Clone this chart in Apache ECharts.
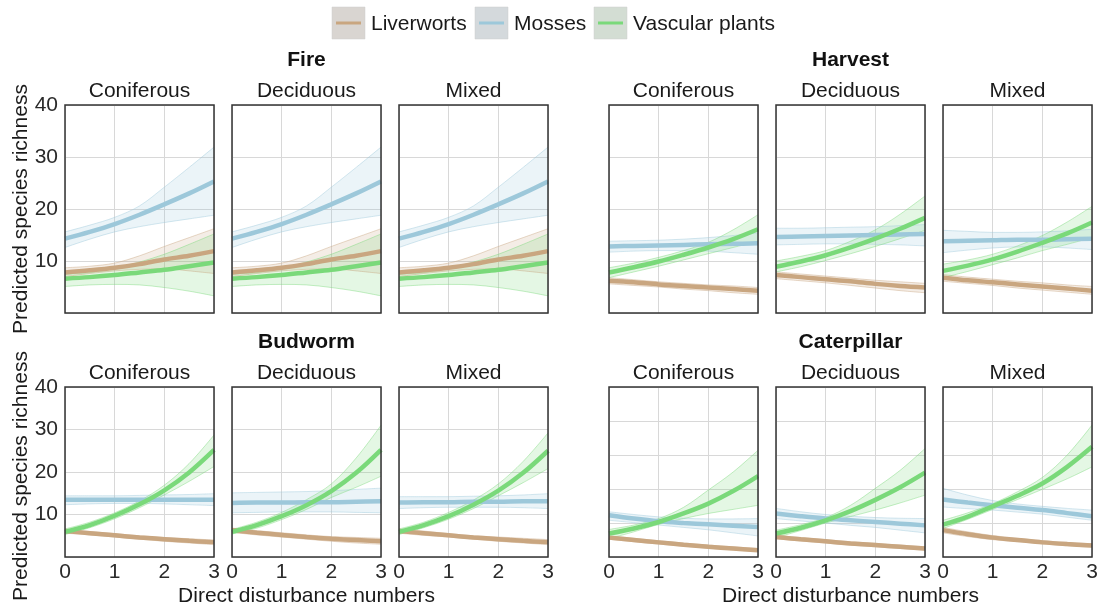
<!DOCTYPE html>
<html><head><meta charset="utf-8">
<script src="https://cdn.jsdelivr.net/npm/echarts@6/dist/echarts.min.js"></script>
<style>html,body{margin:0;padding:0;background:#fff}#chart{width:1103px;height:608px}</style>
</head><body><div id="chart"></div>
<script>
// ---------- data ----------
const xCats = ['0', '0.5', '1', '1.5', '2', '2.5', '3'];
const speciesNames = ['Liverworts', 'Mosses', 'Vascular plants'];
const forestTypes = ['Coniferous', 'Deciduous', 'Mixed'];
const disturbanceNames = ['Fire', 'Harvest', 'Budworm', 'Caterpillar'];
const yTicksMain = [10, 20, 30, 40];
const yMaxByDisturbance = [40, 40, 40, 50];
const xAxisTitle = 'Direct disturbance numbers';
const yAxisTitle = 'Predicted species richness';

// each array: [Liverworts, Mosses, Vascular plants], values at xCats
const fireConMean = [[7.8, 8.2, 8.7, 9.4, 10.3, 11.0, 11.9], [14.3, 15.6, 17.1, 18.9, 20.9, 23.0, 25.3], [6.6, 6.9, 7.3, 7.8, 8.3, 9.0, 9.7]];
const fireConLow  = [[7.0, 7.6, 8.1, 8.4, 8.5, 8.1, 7.6], [12.6, 14.2, 15.6, 16.6, 17.4, 18.1, 18.8], [5.1, 5.4, 5.5, 5.4, 4.9, 4.2, 3.3]];
const fireConHigh = [[8.7, 9.0, 9.6, 11.0, 12.8, 14.5, 16.2], [15.6, 16.9, 18.4, 20.6, 24.2, 28.0, 31.9], [7.5, 7.8, 8.6, 9.8, 11.3, 13.2, 15.2]];

const fireDecMean = [[7.8, 8.2, 8.7, 9.4, 10.3, 11.0, 11.9], [14.3, 15.6, 17.1, 18.9, 20.9, 23.0, 25.3], [6.6, 6.9, 7.3, 7.8, 8.3, 9.0, 9.7]];
const fireDecLow  = [[7.0, 7.6, 8.1, 8.4, 8.5, 8.1, 7.6], [12.6, 14.2, 15.6, 16.6, 17.4, 18.1, 18.8], [5.1, 5.4, 5.5, 5.4, 4.9, 4.2, 3.3]];
const fireDecHigh = [[8.7, 9.0, 9.6, 11.0, 12.8, 14.5, 16.2], [15.6, 16.9, 18.4, 20.6, 24.2, 28.0, 31.9], [7.5, 7.8, 8.6, 9.8, 11.3, 13.2, 15.2]];

const fireMixMean = [[7.8, 8.2, 8.7, 9.4, 10.3, 11.0, 11.9], [14.3, 15.6, 17.1, 18.9, 20.9, 23.0, 25.3], [6.6, 6.9, 7.3, 7.8, 8.3, 9.0, 9.7]];
const fireMixLow  = [[7.0, 7.6, 8.1, 8.4, 8.5, 8.1, 7.6], [12.6, 14.2, 15.6, 16.6, 17.4, 18.1, 18.8], [5.1, 5.4, 5.5, 5.4, 4.9, 4.2, 3.3]];
const fireMixHigh = [[8.7, 9.0, 9.6, 11.0, 12.8, 14.5, 16.2], [15.6, 16.9, 18.4, 20.6, 24.2, 28.0, 31.9], [7.5, 7.8, 8.6, 9.8, 11.3, 13.2, 15.2]];

const harvConMean = [[6.2, 5.9, 5.5, 5.2, 4.9, 4.6, 4.3], [12.8, 12.9, 13.0, 13.1, 13.2, 13.3, 13.4], [7.8, 8.8, 9.9, 11.2, 12.6, 14.2, 16.1]];
const harvConLow  = [[5.6, 5.3, 5.0, 4.6, 4.3, 3.9, 3.6], [11.7, 11.9, 12.0, 12.0, 11.9, 11.6, 11.3], [6.8, 7.9, 9.0, 10.2, 11.4, 12.6, 13.8]];
const harvConHigh = [[6.8, 6.4, 6.0, 5.7, 5.4, 5.2, 4.9], [13.8, 13.9, 14.0, 14.2, 14.5, 14.9, 15.4], [8.7, 9.6, 10.7, 12.0, 13.6, 16.0, 18.9]];

const harvDecMean = [[7.3, 6.9, 6.5, 6.1, 5.6, 5.2, 4.9], [14.6, 14.7, 14.8, 14.9, 15.0, 15.1, 15.2], [8.9, 9.9, 11.1, 12.6, 14.3, 16.2, 18.3]];
const harvDecLow  = [[6.6, 6.2, 5.8, 5.3, 4.8, 4.3, 3.9], [13.1, 13.2, 13.3, 13.3, 13.2, 13.1, 12.9], [7.9, 8.9, 10.1, 11.4, 12.8, 14.3, 15.9]];
const harvDecHigh = [[7.9, 7.5, 7.1, 6.7, 6.3, 6.0, 5.7], [16.3, 16.3, 16.4, 16.5, 16.6, 16.8, 17.0], [10.0, 10.9, 12.0, 13.8, 16.0, 19.0, 22.5]];

const harvMixMean = [[6.8, 6.3, 5.9, 5.5, 5.1, 4.7, 4.3], [13.8, 13.9, 14.0, 14.1, 14.1, 14.2, 14.3], [8.1, 9.1, 10.3, 11.8, 13.5, 15.3, 17.4]];
const harvMixLow  = [[6.1, 5.7, 5.3, 4.8, 4.4, 4.0, 3.6], [11.6, 12.1, 12.5, 12.7, 12.7, 12.5, 12.2], [6.8, 8.0, 9.3, 10.6, 12.0, 13.2, 14.5]];
const harvMixHigh = [[7.4, 6.9, 6.5, 6.1, 5.8, 5.4, 5.1], [15.9, 15.7, 15.5, 15.5, 15.6, 15.8, 16.1], [9.4, 10.2, 11.3, 12.9, 14.9, 17.5, 20.5]];

const budConMean = [[6.1, 5.6, 5.1, 4.6, 4.2, 3.8, 3.5], [13.5, 13.5, 13.5, 13.5, 13.5, 13.5, 13.5], [5.9, 7.5, 9.7, 12.4, 15.7, 19.9, 25.2]];
const budConLow  = [[5.6, 5.2, 4.7, 4.2, 3.7, 3.3, 2.9], [12.3, 12.5, 12.6, 12.6, 12.5, 12.3, 12.1], [5.3, 6.9, 9.0, 11.6, 14.6, 17.8, 21.3]];
const budConHigh = [[6.6, 6.0, 5.5, 5.0, 4.6, 4.3, 4.0], [14.4, 14.4, 14.4, 14.5, 14.6, 14.7, 14.9], [6.6, 8.2, 10.4, 13.2, 16.9, 22.0, 28.7]];

const budDecMean = [[6.3, 5.7, 5.2, 4.7, 4.3, 4.0, 3.7], [12.7, 12.8, 12.8, 12.9, 12.9, 13.0, 13.1], [5.9, 7.5, 9.6, 12.2, 15.5, 19.8, 25.2]];
const budDecLow  = [[5.8, 5.2, 4.7, 4.2, 3.7, 3.3, 3.0], [10.4, 10.5, 10.6, 10.6, 10.6, 10.5, 10.4], [5.4, 6.8, 8.8, 11.2, 14.0, 16.4, 19.0]];
const budDecHigh = [[6.8, 6.2, 5.7, 5.2, 4.8, 4.6, 4.4], [15.1, 15.2, 15.3, 15.4, 15.6, 15.9, 16.2], [6.5, 8.2, 10.5, 13.5, 17.2, 23.3, 31.0]];

const budMixMean = [[6.1, 5.6, 5.1, 4.6, 4.2, 3.8, 3.5], [12.8, 12.9, 12.9, 13.0, 13.0, 13.1, 13.1], [5.9, 7.5, 9.6, 12.3, 15.6, 19.8, 25.0]];
const budMixLow  = [[5.6, 5.1, 4.7, 4.2, 3.7, 3.3, 2.9], [11.4, 11.6, 11.7, 11.7, 11.7, 11.6, 11.4], [5.3, 6.9, 8.9, 11.4, 14.4, 17.5, 20.8]];
const budMixHigh = [[6.6, 6.1, 5.5, 5.0, 4.7, 4.4, 4.1], [14.2, 14.2, 14.2, 14.3, 14.4, 14.6, 14.9], [6.6, 8.2, 10.5, 13.4, 17.2, 22.5, 29.2]];

const catConMean = [[5.7, 5.0, 4.3, 3.6, 3.0, 2.5, 2.0], [12.3, 11.3, 10.5, 10.0, 9.6, 9.2, 8.8], [6.9, 8.4, 10.3, 12.8, 15.7, 19.4, 23.8]];
const catConLow  = [[5.2, 4.5, 3.8, 3.2, 2.6, 2.1, 1.6], [10.8, 10.1, 9.4, 8.7, 8.0, 7.1, 6.2], [5.4, 7.4, 9.6, 11.3, 12.8, 14.0, 15.2]];
const catConHigh = [[6.2, 5.5, 4.8, 4.1, 3.5, 3.0, 2.5], [13.3, 12.5, 11.8, 11.4, 11.2, 11.2, 11.3], [8.1, 9.4, 11.3, 14.6, 19.7, 25.0, 31.4]];

const catDecMean = [[5.9, 5.2, 4.6, 4.0, 3.5, 3.0, 2.5], [12.8, 12.0, 11.3, 10.8, 10.3, 9.8, 9.3], [6.9, 8.6, 10.8, 13.5, 16.8, 20.5, 24.8]];
const catDecLow  = [[5.4, 4.7, 4.1, 3.5, 3.0, 2.5, 2.0], [11.3, 10.6, 10.0, 9.3, 8.7, 7.9, 7.1], [5.7, 7.8, 10.0, 11.9, 13.8, 15.9, 18.2]];
const catDecHigh = [[6.4, 5.7, 5.1, 4.5, 4.0, 3.5, 3.0], [14.3, 13.3, 12.5, 12.0, 11.6, 11.4, 11.3], [7.9, 9.5, 11.6, 15.2, 20.2, 25.5, 31.9]];

const catMixMean = [[7.9, 6.7, 5.7, 5.0, 4.3, 3.8, 3.4], [16.9, 16.0, 15.2, 14.5, 13.8, 12.9, 12.0], [9.5, 11.9, 14.9, 18.0, 21.6, 26.5, 32.4]];
const catMixLow  = [[7.1, 6.0, 5.1, 4.5, 3.9, 3.3, 2.9], [14.7, 14.2, 13.8, 13.2, 12.6, 11.7, 10.8], [8.4, 11.1, 14.0, 16.9, 19.9, 23.0, 26.5]];
const catMixHigh = [[8.7, 7.4, 6.3, 5.5, 4.8, 4.3, 3.9], [20.2, 18.2, 16.6, 15.6, 14.9, 14.3, 13.8], [10.8, 13.0, 15.7, 19.2, 23.4, 30.0, 38.8]];

// ---------- layout / style ----------
const panelData = [
  [fireConMean, fireConLow, fireConHigh], [fireDecMean, fireDecLow, fireDecHigh], [fireMixMean, fireMixLow, fireMixHigh],
  [harvConMean, harvConLow, harvConHigh], [harvDecMean, harvDecLow, harvDecHigh], [harvMixMean, harvMixLow, harvMixHigh],
  [budConMean, budConLow, budConHigh], [budDecMean, budDecLow, budDecHigh], [budMixMean, budMixLow, budMixHigh],
  [catConMean, catConLow, catConHigh], [catDecMean, catDecLow, catDecHigh], [catMixMean, catMixLow, catMixHigh]
];
const colors = ['#c9a680', '#9dc8da', '#7ad97a'];
const FONT = '"Liberation Sans", Arial, sans-serif';
const colLefts = [[65, 232, 399], [609, 776, 943]];
const rowTops = [105, 387];
const rowHeights = [208, 170];
const panelW = 149;
const SMOOTH = 0.35;

const grids = [], xAxes = [], yAxes = [], series = [], graphics = [];

panelData.forEach((pd, i) => {
  const d = Math.floor(i / 3);
  const f = i % 3;
  const row = d < 2 ? 0 : 1;
  const side = d % 2;
  const left = colLefts[side][f];
  grids.push({ left: left, top: rowTops[row], width: panelW, height: rowHeights[row],
    show: true, borderColor: '#333', borderWidth: 1.5, backgroundColor: 'transparent', z: 5 });
  xAxes.push({ gridIndex: i, type: 'category', data: xCats, boundaryGap: false,
    axisLine: { show: false }, axisTick: { show: false },
    axisLabel: { show: row === 1, interval: 1, fontSize: 21, color: '#2a2a2a', margin: 5, fontFamily: FONT },
    splitLine: { show: true, interval: 1, lineStyle: { color: '#d8d8d8', width: 1 } } });
  const showY = (side === 0 && f === 0);
  yAxes.push({ gridIndex: i, type: 'value', min: 0, max: yMaxByDisturbance[d], interval: 10,
    axisLine: { show: false }, axisTick: { show: false },
    axisLabel: { show: showY, fontSize: 21, color: '#2a2a2a', margin: 7, fontFamily: FONT,
      formatter: v => (yTicksMain.indexOf(v) >= 0 ? String(v) : '') },
    splitLine: { show: true, lineStyle: { color: '#d8d8d8', width: 1 } } });
  const [mean, low, high] = pd;
  speciesNames.forEach((sp, k) => {
    const c = colors[k];
    const stackId = 'band' + i + '_' + k;
    series.push({ name: sp, type: 'line', xAxisIndex: i, yAxisIndex: i, data: low[k], stack: stackId,
      smooth: SMOOTH, symbol: 'none', silent: true, z: 1, lineStyle: { color: c, width: 0.8, opacity: 0.55 } });
    series.push({ name: sp, type: 'line', xAxisIndex: i, yAxisIndex: i,
      data: high[k].map((h, j) => +(h - low[k][j]).toFixed(2)), stack: stackId,
      smooth: SMOOTH, symbol: 'none', silent: true, z: 1, lineStyle: { color: c, width: 0.8, opacity: 0.55 },
      areaStyle: { color: c, opacity: 0.2 } });
  });
  speciesNames.forEach((sp, k) => {
    series.push({ name: sp, type: 'line', xAxisIndex: i, yAxisIndex: i, data: mean[k],
      smooth: SMOOTH, symbol: 'none', silent: true, z: 3, lineStyle: { color: colors[k], width: 4.5 } });
  });
  graphics.push({ type: 'text', x: left + panelW / 2, y: rowTops[row] - 14,
    style: { text: forestTypes[f], font: '21px ' + FONT, fill: '#1a1a1a', align: 'center', textAlign: 'center', verticalAlign: 'middle', textVerticalAlign: 'middle' } });
});

disturbanceNames.forEach((name, d) => {
  const row = d < 2 ? 0 : 1;
  const side = d % 2;
  const cx = (colLefts[side][0] + colLefts[side][2] + panelW) / 2;
  graphics.push({ type: 'text', x: cx, y: row === 0 ? 60 : 342,
    style: { text: name, font: 'bold 21px ' + FONT, fill: '#111', align: 'center', textAlign: 'center', verticalAlign: 'middle', textVerticalAlign: 'middle' } });
  if (row === 1) {
    graphics.push({ type: 'text', x: cx, y: 596,
      style: { text: xAxisTitle, font: '21px ' + FONT, fill: '#1a1a1a', align: 'center', textAlign: 'center', verticalAlign: 'middle', textVerticalAlign: 'middle' } });
  }
});
[[21, 209], [21, 476]].forEach(p => {
  graphics.push({ type: 'text', x: p[0], y: p[1], rotation: Math.PI / 2,
    style: { text: yAxisTitle, font: '21px ' + FONT, fill: '#1a1a1a', align: 'center', textAlign: 'center', verticalAlign: 'middle', textVerticalAlign: 'middle' } });
});
const legendBoxX = [332, 475, 594];
const legendBoxFill = ['#d9d5d1', '#d4d9dc', '#d3ddd3'];
speciesNames.forEach((sp, k) => {
  const bx = legendBoxX[k];
  graphics.push({ type: 'rect', shape: { x: bx, y: 7, width: 33, height: 32 }, style: { fill: legendBoxFill[k], stroke: '#cfcfcf', lineWidth: 0.5 } });
  graphics.push({ type: 'line', shape: { x1: bx + 4, y1: 23, x2: bx + 29, y2: 23 }, style: { stroke: colors[k], lineWidth: 3 } });
  graphics.push({ type: 'text', x: bx + 39, y: 24,
    style: { text: sp, font: '21px ' + FONT, fill: '#1a1a1a', align: 'left', textAlign: 'left', verticalAlign: 'middle', textVerticalAlign: 'middle' } });
});

const chart = echarts.init(document.getElementById('chart'), null, { renderer: 'canvas' });
chart.setOption({
  animation: false,
  backgroundColor: '#fff',
  grid: grids, xAxis: xAxes, yAxis: yAxes, series: series, graphic: graphics
});
</script></body></html>
